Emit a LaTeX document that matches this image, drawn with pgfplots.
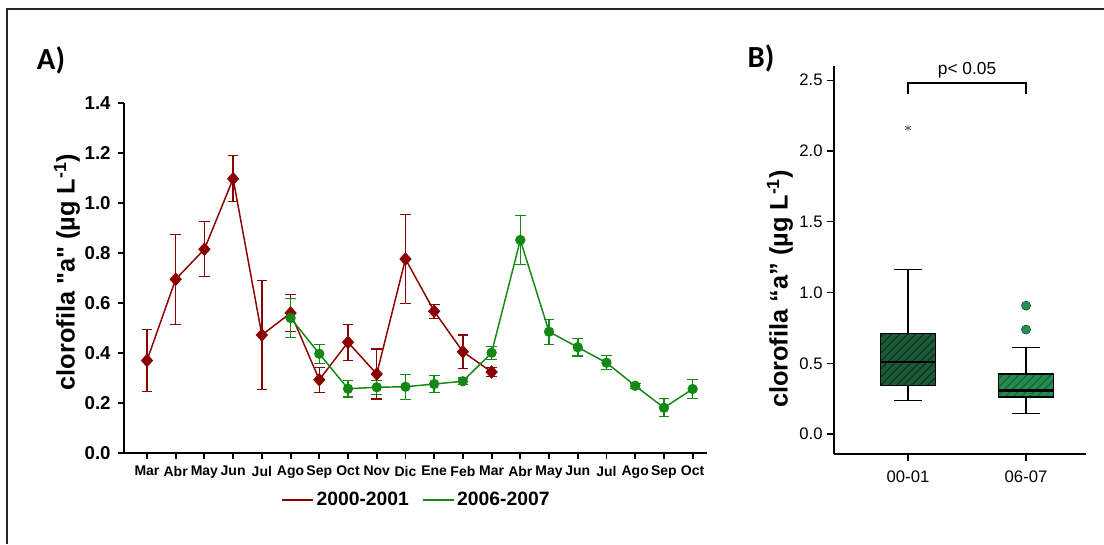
\documentclass[border=0pt]{standalone}
\usepackage{pgfplots}
\pgfplotsset{compat=1.18}
\usepackage{pgfplotstable}
\usepackage{fontspec}
\setmainfont{Liberation Sans}
\newfontfamily\calibri{Carlito}
\newfontfamily\rawsans{Liberation Sans}[Ligatures=ResetAll]
\usepgfplotslibrary{statistics}
\usetikzlibrary{patterns.meta}

\definecolor{seriesA}{RGB}{139,0,0}
\definecolor{seriesB}{RGB}{20,135,20}
\definecolor{boxA}{RGB}{28,90,55}
\definecolor{boxAline}{RGB}{12,50,30}
\definecolor{boxB}{RGB}{40,140,80}
\definecolor{boxBline}{RGB}{22,95,52}
\definecolor{outl}{RGB}{35,145,80}

% monthly means and error (2000-2001)
\pgfplotstableread{
x y e
0 0.370 0.125
1 0.695 0.180
2 0.815 0.110
3 1.097 0.092
4 0.472 0.218
5 0.560 0.075
6 0.293 0.050
7 0.443 0.072
8 0.316 0.100
9 0.776 0.178
10 0.567 0.028
11 0.405 0.067
12 0.324 0.018
}\redtab

% monthly means and error (2006-2007)
\pgfplotstableread{
x y e
5 0.540 0.077
6 0.397 0.038
7 0.257 0.033
8 0.263 0.028
9 0.265 0.050
10 0.276 0.033
11 0.287 0.013
12 0.401 0.026
13 0.852 0.097
14 0.485 0.050
15 0.423 0.035
16 0.361 0.028
17 0.269 0.010
18 0.181 0.036
19 0.256 0.039
}\greentab

\newcommand{\dq}{{\rawsans\bfseries "}}

\begin{document}
\begin{tikzpicture}
\path[use as bounding box] (0,0) rectangle (828pt,408pt);
\draw[line width=1.5pt, black!85] (5.25pt,0pt) -- (5.25pt,401.25pt) -- (828pt,401.25pt);

% ---------- panel A: monthly series ----------
\begin{axis}[
  at={(93pt,68.25pt)}, anchor=south west,
  scale only axis, width=437.25pt, height=262.5pt,
  xmin=-0.8, xmax=19.5, ymin=0, ymax=1.4,
  axis x line*=bottom, axis y line*=left,
  axis line style={-, line width=1.6pt, black},
  tick style={line width=1.4pt, black},
  tick align=outside, major tick length=4.5pt,
  xtick={0,...,19},
  xticklabels={Mar,Abr,May,Jun,Jul,Ago,Sep,Oct,Nov,Dic,Ene,Feb,Mar,Abr,May,Jun,Jul,Ago,Sep,Oct},
  x tick label style={font=\fontsize{10.5}{12}\selectfont\bfseries, inner sep=1pt, yshift=-4pt},
  ytick={0,0.2,0.4,0.6,0.8,1.0,1.2,1.4},
  y tick label style={font=\fontsize{14}{16}\selectfont\bfseries, xshift=-2pt,
    /pgf/number format/.cd, fixed, fixed zerofill, precision=1, assume math mode=true},
  clip=false,
  legend style={at={(0.5026,-0.134)}, anchor=center, draw=none, fill=none,
    font=\fontsize{14.5}{16}\selectfont\bfseries, inner sep=0pt,
    /tikz/every even column/.append style={column sep=8pt}},
  legend columns=2,
  legend image code/.code={\draw[#1] (0pt,0pt) -- (23pt,0pt);},
]
\addlegendimage{seriesA, line width=1.1pt}
\addlegendentry{2000-2001}
\addlegendimage{seriesB, line width=1.1pt}
\addlegendentry{2006-2007}

\addplot[forget plot, seriesA, line width=1.1pt,
  mark=diamond*, mark size=4.3pt, mark options={xscale=1.2, solid, fill=seriesA},
  error bars/.cd, y dir=both, y explicit,
  error bar style={line width=1.1pt, seriesA},
  error mark options={rotate=90, mark size=4pt, line width=1.1pt, seriesA}]
  table[x=x, y=y, y error=e] {\redtab};

\addplot[forget plot, seriesB, line width=1.1pt,
  mark=*, mark size=3.3pt, mark options={solid, fill=seriesB},
  error bars/.cd, y dir=both, y explicit,
  error bar style={line width=1.1pt, seriesB},
  error mark options={rotate=90, mark size=4pt, line width=1.1pt, seriesB}]
  table[x=x, y=y, y error=e] {\greentab};
\end{axis}

\node[rotate=90, font=\fontsize{19}{22}\selectfont\bfseries] at (50.25pt,204pt)
  {clorofila \dq a\dq{} (µg L\textsuperscript{-1})};
\node[font=\fontsize{23}{26}\selectfont\calibri\bfseries] at (38.25pt,363pt) {A)};

% ---------- panel B: box plots ----------
\begin{axis}[
  at={(625.5pt,67.5pt)}, anchor=south west,
  scale only axis, width=189pt, height=291pt,
  xmin=0.373, xmax=2.508, ymin=-0.141, ymax=2.6,
  axis x line*=bottom, axis y line*=left,
  axis line style={-, line width=0.9pt, black},
  tick style={line width=0.9pt, black},
  tick align=outside, major tick length=5pt,
  xtick={1,2}, xticklabels={00-01,06-07},
  ytick={0,0.5,1,1.5,2,2.5},
  tick label style={font=\fontsize{12.5}{14}\selectfont},
  x tick label style={yshift=-4pt},
  y tick label style={/pgf/number format/.cd, fixed, fixed zerofill, precision=1, assume math mode=true},
  clip=false,
  boxplot/draw direction=y,
]
\addplot[draw=black, line width=0.9pt,
  boxplot prepared={draw position=1, lower whisker=0.238, lower quartile=0.344,
    median=0.509, upper quartile=0.709, upper whisker=1.162,
    box extend=0.47, whisker extend=0.23},
  boxplot/every box/.style={fill=boxA,
    postaction={pattern={Lines[angle=45,distance=4pt,line width=1.1pt]}, pattern color=boxAline},
    postaction={draw=black, line width=0.9pt}},
  boxplot/every median/.style={line width=2.2pt}]
  coordinates {};

\addplot[draw=black, line width=0.9pt,
  boxplot prepared={draw position=2, lower whisker=0.146, lower quartile=0.262,
    median=0.309, upper quartile=0.424, upper whisker=0.610,
    box extend=0.47, whisker extend=0.23},
  boxplot/every box/.style={fill=boxB,
    postaction={pattern={Lines[angle=45,distance=4pt,line width=1.1pt]}, pattern color=boxBline},
    postaction={draw=black, line width=0.9pt}},
  boxplot/every median/.style={line width=2.2pt}]
  coordinates {};

% outliers
\addplot[only marks, mark=asterisk, mark size=2.6pt, black!65, line width=0.6pt]
  coordinates {(1,2.162)};
\addplot[only marks, mark=*, mark size=3.4pt, mark options={fill=outl, draw=boxBline, line width=0.5pt}]
  coordinates {(2,0.907) (2,0.738)};

% significance bracket
\draw[line width=0.9pt] (axis cs:1,2.40) -- (axis cs:1,2.48) -- (axis cs:2,2.48) -- (axis cs:2,2.40);
\node[font=\fontsize{13}{15}\selectfont] at (axis cs:1.5,2.57) {p< 0.05};
\end{axis}

\node[rotate=90, font=\fontsize{19}{22}\selectfont\bfseries] at (585pt,191.25pt)
  {clorofila “a” (µg L\textsuperscript{-1})};
\node[font=\fontsize{23}{26}\selectfont\calibri\bfseries] at (570.75pt,364.5pt) {B)};
\end{tikzpicture}
\end{document}
